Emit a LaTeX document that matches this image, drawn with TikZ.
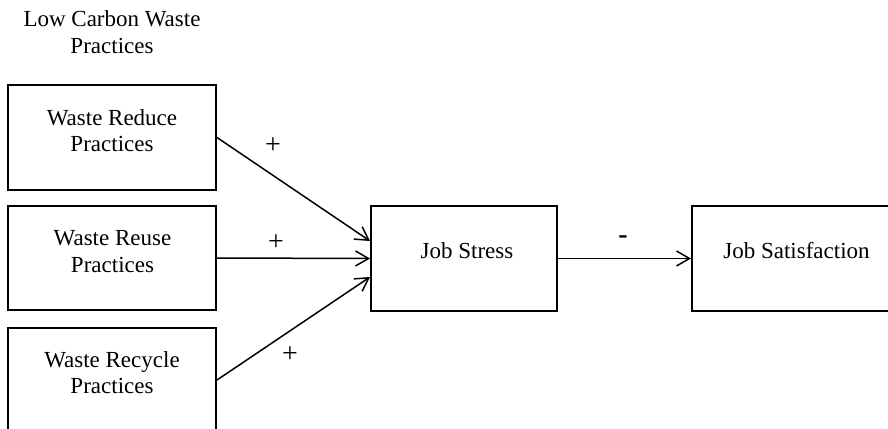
\documentclass[tikz,border=0pt]{standalone}
\usepackage{fontspec}
\setmainfont{Liberation Serif}
\usetikzlibrary{arrows.meta,calc}
\tikzset{
  boxnode/.style={draw=black, line width=1pt, rectangle, inner sep=0pt, minimum width=#1},
  boxnode/.default={104pt},
  txt/.style={inner sep=0pt, align=center, font=\fontsize{11.5}{13.3}\selectfont},
  sign/.style={inner sep=0pt, font=\fontsize{14}{16}\selectfont},
  conn/.style={line width=0.75pt, -{Straight Barb[length=6.5pt,width=7.5pt,line width=0.75pt]}}
}
\begin{document}
\begin{tikzpicture}[x=0.5pt,y=-0.5pt]
\useasboundingbox (0,0) rectangle (888,428);
\fill[white] (0,0) rectangle (888,428);
\clip (0,0) rectangle (888,428);
% boxes
\node[boxnode, minimum height=52.5pt] (wred) at (112,137.5) {};
\node[boxnode, minimum height=52pt] (wreu) at (112,258) {};
\node[boxnode, minimum height=52pt] (wrec) at (112,380) {};
\node[boxnode=93pt, minimum height=52.5pt] (js) at (464,258.5) {};
\node[boxnode=104pt, minimum height=52.5pt] (jsat) at (796,258.5) {};
% texts
\node[txt] (title) at (112,32.2) {Low Carbon Waste\\Practices};
\node[txt] (twred) at (112,130.5) {Waste Reduce\\Practices};
\node[txt] (twreu) at (112.5,251.8) {Waste Reuse\\Practices};
\node[txt] (twrec) at (112,372.5) {Waste Recycle\\Practices};
\node[txt] (tjs) at (467,250.5) {Job Stress};
\node[txt] (tjsat) at (796.5,251) {Job Satisfaction};
% connectors
\coordinate (in1) at ($(js.west)+(0,-17.5)$);
\coordinate (in3) at ($(js.west)+(0,18.5)$);
\draw[conn] (wred.east) -- (in1);
\draw[conn] (wreu.east) -- (js.west);
\draw[conn] (wrec.east) -- (in3);
\draw[conn] (js.east) -- (jsat.west);
% signs
\node[sign] (p1) at (273,146) {+};
\node[sign] (p2) at (276,243) {+};
\node[sign] (p3) at (290,355) {+};
\node[sign, font=\fontsize{14}{16}\selectfont\bfseries] (m1) at (623,240) {-};
\end{tikzpicture}
\end{document}
